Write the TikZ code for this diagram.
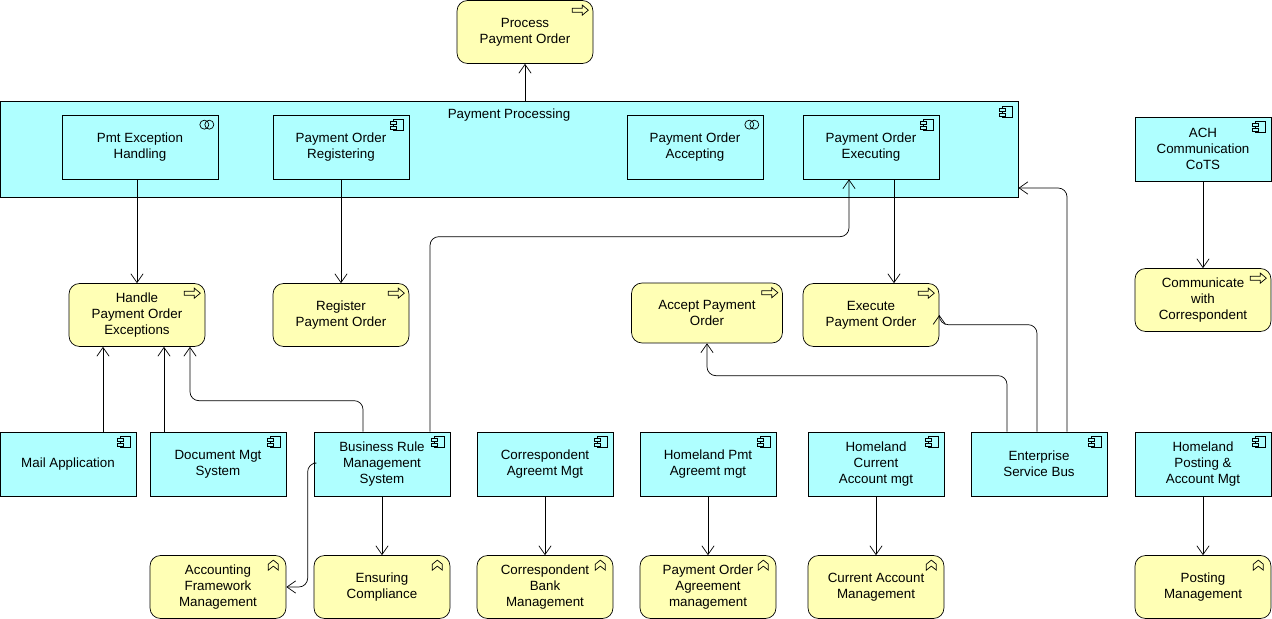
\documentclass[tikz,border=0pt]{standalone}
\usepackage{fontspec}
\setmainfont{Liberation Sans}
\usepackage{tikz}
\usetikzlibrary{positioning,calc,arrows.meta}

\definecolor{appcyan}{HTML}{AFFFFF}
\definecolor{bizyellow}{HTML}{FFFFB5}

% small ArchiMate-like icons, placed at a node's north east corner
\newcommand{\compicon}[1]{%
  \draw[fill=appcyan] ([shift={(-16,5)}]#1.north east) rectangle ([shift={(-6,16)}]#1.north east);
  \draw[fill=appcyan] ([shift={(-19,7)}]#1.north east) rectangle ([shift={(-13,10)}]#1.north east);
  \draw[fill=appcyan] ([shift={(-19,12)}]#1.north east) rectangle ([shift={(-13,15)}]#1.north east);}
\newcommand{\procicon}[1]{%
  \draw ([shift={(-21,8)}]#1.north east) -- ++(10,0) -- ++(0,-3) -- ++(6,5) -- ++(-6,5) -- ++(0,-3) -- ++(-10,0) -- cycle;}
\newcommand{\funcicon}[1]{%
  \draw ([shift={(-18,15)}]#1.north east) -- ++(0,-6) -- ++(5,-4) -- ++(5,4) -- ++(0,6) -- ++(-5,-4) -- cycle;}
\newcommand{\intericon}[1]{%
  \draw ([shift={(-14,10)}]#1.north east) circle (4.5);
  \draw ([shift={(-9,10)}]#1.north east) circle (4.5);}

\begin{document}
\begin{tikzpicture}[
    x=0.02cm, y=-0.02cm,
    font=\fontsize{7.6pt}{9.2pt}\selectfont,
    app/.style={rectangle, draw, fill=appcyan, minimum width=2.72cm, minimum height=1.28cm, align=center, inner sep=1pt},
    biz/.style={rectangle, draw, fill=bizyellow, rounded corners=6pt, minimum width=2.72cm, minimum height=1.26cm, align=center, inner sep=1pt},
    arrow/.style={-{Straight Barb[length=5pt,width=7pt]}, rounded corners=5pt}
]
    \useasboundingbox (0,0) rectangle (1272,619);

    % top
    \node[biz] (process) at (525,32) {Process\\Payment Order};
    \node[rectangle, draw, fill=appcyan, minimum width=20.36cm, minimum height=1.92cm, anchor=north west] (pp) at (0,101) {};
    \node[anchor=north] at (509,103) {Payment Processing};

    \node[app, minimum width=3.12cm] (exception) at (140,147) {Pmt Exception\\Handling};
    \node[app] (registering) at (341,147) {Payment Order\\Registering};
    \node[app] (accepting) at (695,147) {Payment Order\\Accepting};
    \node[app] (executing) at (871,147) {Payment Order\\Executing};
    \node[app] (ach) at (1203,149) {ACH\\Communication\\CoTS};

    % middle processes
    \node[biz] (handle) at (137,315) {Handle\\Payment Order\\Exceptions};
    \node[biz] (register) at (341,315) {Register\\Payment Order};
    \node[biz, minimum width=3.02cm, minimum height=1.2cm] (accept) at (707,313) {Accept Payment\\Order};
    \node[biz] (execute) at (871,315) {Execute\\Payment Order};
    \node[biz] (communicate) at (1203,300) {Communicate\\with\\Correspondent};

    % application row
    \node[app] (mail) at (68,464) {Mail Application};
    \node[app] (docmgt) at (218,464) {Document Mgt\\System};
    \node[app] (brms) at (382,464) {Business Rule\\Management\\System};
    \node[app] (corragr) at (545,464) {Correspondent\\Agreemt Mgt};
    \node[app] (hpmt) at (708,464) {Homeland Pmt\\Agreemt mgt};
    \node[app] (hcur) at (876,464) {Homeland\\Current\\Account mgt};
    \node[app] (esb) at (1039,464) {Enterprise\\Service Bus};
    \node[app] (hpost) at (1203,464) {Homeland\\Posting \&\\Account Mgt};

    % functions
    \node[biz] (accounting) at (218,587) {Accounting\\Framework\\Management};
    \node[biz] (compliance) at (382,587) {Ensuring\\Compliance};
    \node[biz] (corrbank) at (545,587) {Correspondent\\Bank\\Management};
    \node[biz] (poagr) at (708,587) {Payment Order\\Agreement\\management};
    \node[biz] (curacc) at (876,587) {Current Account\\Management};
    \node[biz] (posting) at (1203,587) {Posting\\Management};

    % icons
    \procicon{process} \procicon{handle} \procicon{register} \procicon{accept}
    \procicon{execute} \procicon{communicate}
    \compicon{pp} \compicon{registering} \compicon{executing} \compicon{ach}
    \intericon{exception} \intericon{accepting}
    \foreach \n in {mail,docmgt,brms,corragr,hpmt,hcur,esb,hpost} {\compicon{\n}}
    \foreach \n in {accounting,compliance,corrbank,poagr,curacc,posting} {\funcicon{\n}}

    % connectors
    \draw[arrow] (pp.north -| process) -- (process);
    \draw[arrow] (exception.south -| handle) -- (handle);
    \draw[arrow] (registering) -- (register);
    \draw[arrow] ($(executing.south)+(23,0)$) -- ($(execute.north)+(23,0)$);
    \draw[arrow] (ach) -- (communicate);
    \draw[arrow] ($(mail.north)+(35,0)$) -- ($(handle.south)+(-34,0)$);
    \draw[arrow] ($(docmgt.north)+(-54,0)$) -- ($(handle.south)+(27,0)$);
    \draw[arrow] ($(brms.north)+(-19,0)$) -- ++(0,-31) -| ($(handle.south)+(53,0)$);
    \draw[arrow] ($(brms.north)+(48,0)$) -- ++(0,-195) -| ($(executing.south)+(-22,0)$);
    \draw[arrow] ($(brms.west)+(0,-1)$) -- ++(-6,0) |- (accounting.east);
    \draw[arrow] (brms) -- (compliance);
    \draw[arrow] (corragr) -- (corrbank);
    \draw[arrow] (hpmt) -- (poagr);
    \draw[arrow] (hcur) -- (curacc);
    \draw[arrow] (hpost) -- (posting);
    \draw[arrow] ($(esb.north)+(-32,0)$) -- ++(0,-56) -| (accept.south);
    \draw[arrow] ($(esb.north)+(-2,0)$) -- ++(0,-107) -| (execute.east);
    \draw[arrow] ($(esb.north)+(28,0)$) |- (pp.east |- 0,188);
\end{tikzpicture}
\end{document}
